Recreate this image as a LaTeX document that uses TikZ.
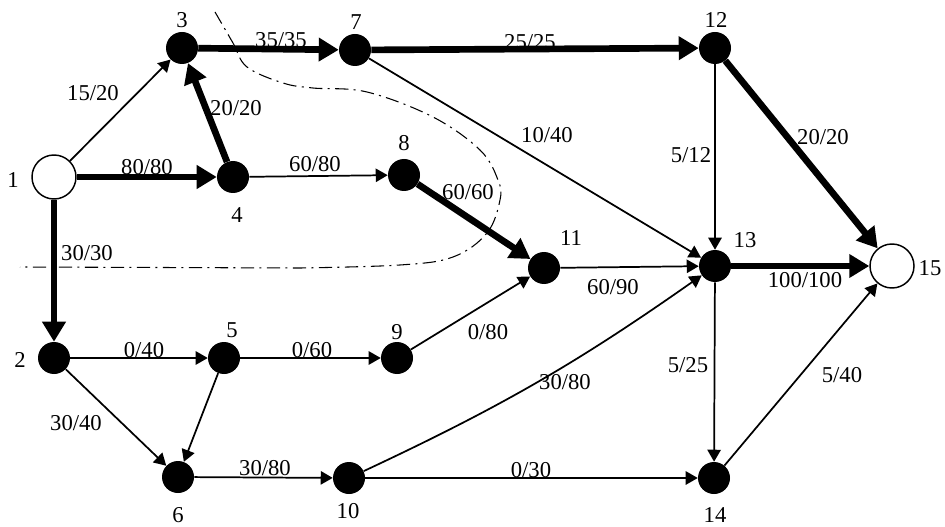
\documentclass[tikz,border=0pt]{standalone}
\usepackage{fontspec}
\setmainfont{Liberation Serif}
\usetikzlibrary{arrows.meta}
\begin{document}
\begin{tikzpicture}[x=0.75pt,y=-0.75pt,
  bn/.style={circle,fill=black,minimum size=24pt,inner sep=0pt},
  wn/.style={circle,draw=black,line width=1.1pt,fill=white,minimum size=33pt,inner sep=0pt},
  tx/.style={font=\fontsize{17}{20}\selectfont,inner sep=0pt},
  thinarc/.style={line width=1.3pt,-{Triangle[length=9pt,width=10pt]}},
  thickarc/.style={line width=5pt,-{Triangle[length=15pt,width=17pt]}},
  cut/.style={line width=0.8pt,dash pattern=on 10pt off 4pt on 1.5pt off 4pt}
]
\useasboundingbox (0,0) rectangle (945,527);
% cut line
\draw[cut] plot[smooth,tension=0.6] coordinates {(215,12) (233,43) (247,67) (283,83) (313,88) (367,92) (433,117) (480,150) (498,180) (500,200) (487,233) (453,257) (400,265) (300,268)} -- (20,267);
% nodes
\node[wn] (n1) at (54,177) {};
\node[bn] (n2) at (54,358) {};
\node[bn] (n3) at (182,48) {};
\node[bn] (n4) at (233,177) {};
\node[bn] (n5) at (224,358) {};
\node[bn] (n6) at (178,477) {};
\node[bn] (n7) at (355,50) {};
\node[bn] (n8) at (404,175) {};
\node[bn] (n9) at (397,358) {};
\node[bn] (n10) at (349,478) {};
\node[bn] (n11) at (544,268) {};
\node[bn] (n12) at (715,48) {};
\node[bn] (n13) at (715,266) {};
\node[bn] (n14) at (714,478) {};
\node[wn] (n15) at (892,266) {};
% node labels
\node[tx] (t1) at (13,180) {1};
\node[tx] (t2) at (20,360) {2};
\node[tx] (t3) at (182,20) {3};
\node[tx] (t4) at (237,215) {4};
\node[tx] (t5) at (232,330) {5};
\node[tx] (t6) at (178,515) {6};
\node[tx] (t7) at (356,22) {7};
\node[tx] (t8) at (404,143) {8};
\node[tx] (t9) at (397,332) {9};
\node[tx] (t10) at (348,511) {10};
\node[tx] (t11) at (571,238) {11};
\node[tx] (t12) at (716,20) {12};
\node[tx] (t13) at (745,240) {13};
\node[tx] (t14) at (715,515) {14};
\node[tx] (t15) at (930,268) {15};
% arcs
\draw[thinarc] (n1) -- (n3);
\draw[thickarc] (n1) -- (n4);
\draw[thickarc] (n1) -- (n2);
\draw[thickarc] (n4) -- (n3);
\draw[thickarc] (n3) -- (n7);
\draw[thinarc] (n4) -- (n8);
\draw[thickarc] (n7) -- (n12);
\draw[thinarc] (n7) -- (n13);
\draw[thickarc] (n8) -- (n11);
\draw[thinarc] (n12) -- (n13);
\draw[thickarc] (n12) -- (n15);
\draw[thinarc] (n11) -- (n13);
\draw[thickarc] (n13) -- (n15);
\draw[thinarc] (n13) -- (n14);
\draw[thinarc] (n14) -- (n15);
\draw[thinarc] (n2) -- (n5);
\draw[thinarc] (n5) -- (n9);
\draw[thinarc] (n9) -- (n11);
\draw[thinarc] (n2) -- (n6);
\draw[thinarc] (n5) -- (n6);
\draw[thinarc] (n6) -- (n10);
\draw[thinarc] (n10) -- (n14);
\draw[thinarc] (n10) to[bend right=5] (n13);
% arc labels
\node[tx] (a13) at (93,93) {15/20};
\node[tx] (a14) at (147,167) {80/80};
\node[tx] (a12) at (87,253) {30/30};
\node[tx] (a43) at (236,108) {20/20};
\node[tx] (a37) at (281,40) {35/35};
\node[tx] (a48) at (315,164) {60/80};
\node[tx] (a712) at (530,42) {25/25};
\node[tx] (a713) at (547,135) {10/40};
\node[tx] (a811) at (468,192) {60/60};
\node[tx] (a1213) at (691,155) {5/12};
\node[tx] (a1215) at (823,137) {20/20};
\node[tx] (a1113) at (613,287) {60/90};
\node[tx] (a1315) at (805,280) {100/100};
\node[tx] (a25) at (144,350) {0/40};
\node[tx] (a59) at (312,350) {0/60};
\node[tx] (a26) at (76,423) {30/40};
\node[tx] (a610) at (265,468) {30/80};
\node[tx] (a911) at (488,332) {0/80};
\node[tx] (a1013) at (565,382) {30/80};
\node[tx] (a1314) at (688,365) {5/25};
\node[tx] (a1415) at (842,375) {5/40};
\node[tx] (a1014) at (531,470) {0/30};
\end{tikzpicture}
\end{document}
